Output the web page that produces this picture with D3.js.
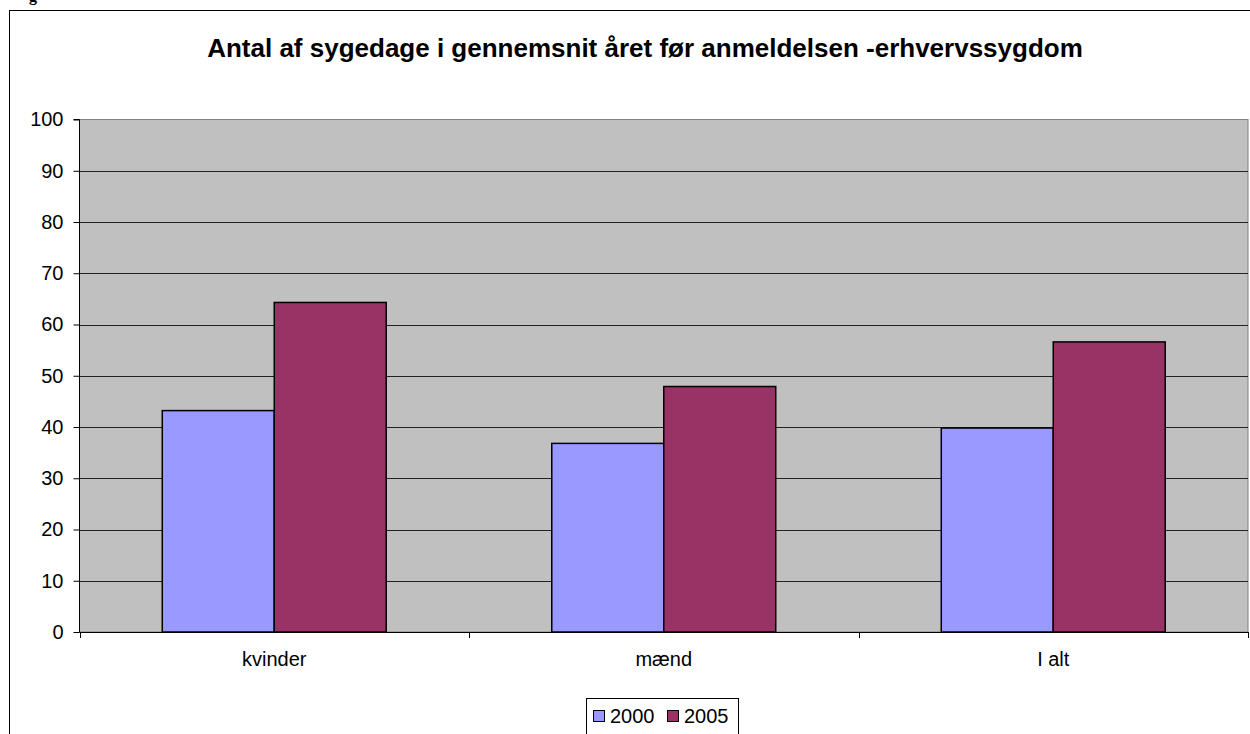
<!DOCTYPE html>
<html>
<head>
<meta charset="utf-8">
<script src="https://cdn.jsdelivr.net/npm/d3@7"></script>
<style>
  html, body { margin: 0; padding: 0; background: #fff; }
  svg { display: block; }
  text { font-family: "Liberation Sans", Arial, sans-serif; }
</style>
</head>
<body>
<svg id="chart" width="1250" height="734"></svg>
<script>
const categories = ["kvinder", "mænd", "I alt"];
const seriesNames = ["2000", "2005"];
const values2000 = [43.2, 36.8, 39.8];
const values2005 = [64.3, 47.9, 56.6];
const yTicks = [0, 10, 20, 30, 40, 50, 60, 70, 80, 90, 100];
const colors = ["#9999FF", "#993366"];
const title = "Antal af sygedage i gennemsnit året før anmeldelsen -erhvervssygdom";

const svg = d3.select("#chart");
const plot = { left: 79.5, right: 1248, top: 119.5, bottom: 632 };

// fragment of page text above the frame
svg.append("text").attr("x", 29).attr("y", 0.5)
  .style("font-family", "'Liberation Serif', 'Times New Roman', serif")
  .style("font-weight", "bold").style("font-size", "16px").text("g");

// outer frame
svg.append("rect").attr("x", 9.5).attr("y", 10.5).attr("width", 1260).attr("height", 760)
  .attr("fill", "none").attr("stroke", "#000").attr("stroke-width", 1);

// title
svg.append("text").attr("x", 645).attr("y", 57).attr("text-anchor", "middle")
  .style("font-weight", "bold").style("font-size", "26px").attr("fill", "#000").text(title);

const y = d3.scaleLinear().domain([0, 100]).range([plot.bottom, plot.top]);
const x0 = d3.scaleBand().domain(categories).range([plot.left, plot.right]).padding(0);
const bw = x0.bandwidth();
const x1 = d3.scaleBand().domain(seriesNames).range([bw * 0.2125, bw * 0.7875]).padding(0);

// plot background
svg.append("rect").attr("x", plot.left).attr("y", plot.top)
  .attr("width", plot.right - plot.left).attr("height", plot.bottom - plot.top)
  .attr("fill", "#C0C0C0").attr("stroke", "#808080").attr("stroke-width", 1);

// gridlines
svg.append("g").selectAll("line").data(yTicks.filter(d => d > 0 && d < 100)).join("line")
  .attr("x1", plot.left).attr("x2", plot.right)
  .attr("y1", d => Math.round(y(d)) + 0.5).attr("y2", d => Math.round(y(d)) + 0.5)
  .attr("stroke", "#222").attr("stroke-width", 1);

// bars
const data = categories.map((c, i) => ({ cat: c, vals: [values2000[i], values2005[i]] }));
const groups = svg.append("g").selectAll("g").data(data).join("g")
  .attr("transform", d => `translate(${x0(d.cat)},0)`);
groups.selectAll("rect").data(d => d.vals.map((v, j) => ({ key: seriesNames[j], v, j }))).join("rect")
  .attr("x", d => x1(d.key)).attr("width", x1.bandwidth())
  .attr("y", d => y(d.v)).attr("height", d => y(0) - y(d.v))
  .attr("fill", d => colors[d.j]).attr("stroke", "#000").attr("stroke-width", 1.5);

// y axis
const yAxis = d3.axisLeft(y).tickValues(yTicks).tickSize(6).tickPadding(10);
const ya = svg.append("g").attr("transform", `translate(${plot.left},0)`).call(yAxis);
ya.selectAll("text").style("font-size", "20px").style("font-family", "'Liberation Sans', Arial, sans-serif").attr("fill", "#000");
ya.selectAll("line").attr("stroke", "#000");
ya.select(".domain").attr("stroke", "#000").attr("d", `M-6,${plot.top}H0V${plot.bottom}`);

// x axis
const xa = svg.append("g").attr("transform", `translate(0,${plot.bottom})`)
  .call(d3.axisBottom(x0).tickSize(0).tickPadding(20));
xa.select(".domain").attr("stroke", "#000").attr("d", `M${plot.left},0.5H${plot.right}`);
xa.selectAll("text").style("font-size", "20px").style("font-family", "'Liberation Sans', Arial, sans-serif").attr("fill", "#000");
// category separator ticks
const sepX = categories.map(c => x0(c)).concat([plot.right]);
svg.append("g").selectAll("line").data(sepX).join("line")
  .attr("x1", d => Math.round(d) + 0.5).attr("x2", d => Math.round(d) + 0.5)
  .attr("y1", plot.bottom).attr("y2", plot.bottom + 6).attr("stroke", "#000");

// legend
const lg = svg.append("g");
lg.append("rect").attr("x", 586.5).attr("y", 698.5).attr("width", 152).attr("height", 50)
  .attr("fill", "#fff").attr("stroke", "#000");
const items = lg.selectAll("g").data(seriesNames).join("g")
  .attr("transform", (d, i) => `translate(${593 + i * 74},0)`);
items.append("rect").attr("x", 0.5).attr("y", 710.5).attr("width", 11).attr("height", 11)
  .attr("fill", (d, i) => colors[i]).attr("stroke", "#000");
items.append("text").attr("x", 17).attr("y", 723).style("font-size", "20px").attr("fill", "#000").text(d => d);
</script>
</body>
</html>
